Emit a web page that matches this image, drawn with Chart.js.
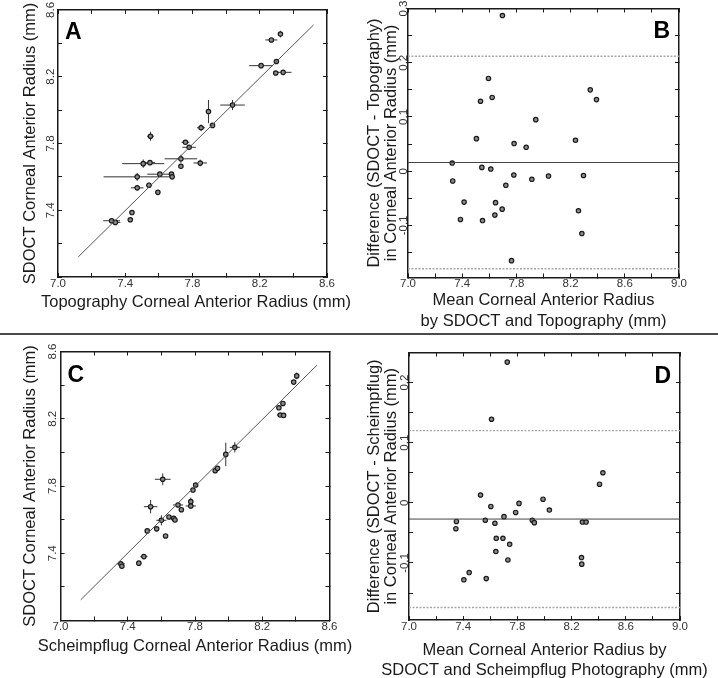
<!DOCTYPE html>
<html>
<head>
<meta charset="utf-8">
<script src="https://cdn.jsdelivr.net/npm/chart.js"></script>
<style>
	body { margin: 0; background: #fff; overflow: hidden; }
	.page { position: relative; width: 718px; height: 678px; overflow: hidden; }
	.page canvas { position: absolute; }
	.divider { position: absolute; left: 0; top: 333px; width: 718px; height: 2px; background: #4a4a4a; }
</style>
</head>
<body>
<div class="page">
	<div class="divider"></div>
	<canvas id="chartA" width="392" height="334" style="left:0px;top:0px"></canvas>
	<canvas id="chartB" width="367" height="334" style="left:360px;top:0px"></canvas>
	<canvas id="chartC" width="390" height="342" style="left:0px;top:336px"></canvas>
	<canvas id="chartD" width="367" height="344" style="left:361px;top:336px"></canvas>
</div>
<script>
// ---- data ----
// A: topography vs SDOCT (mm), with half error bars
const topoA = [8.323, 8.269, 8.299, 8.208, 8.295, 8.339, 8.038, 7.895, 7.919, 7.851, 7.550, 7.758, 7.780, 7.731, 7.731,
	7.846, 7.507, 7.547, 7.471, 7.606, 7.675, 7.679, 7.471, 7.541, 7.594, 7.440, 7.430, 7.319, 7.341];
const sdoctA = [8.455, 8.420, 8.291, 8.266, 8.222, 8.226, 8.030, 7.991, 7.908, 7.894, 7.843, 7.807, 7.777, 7.708, 7.663,
	7.683, 7.679, 7.685, 7.600, 7.616, 7.617, 7.600, 7.534, 7.550, 7.507, 7.386, 7.343, 7.337, 7.327];
const topoErrA = [0.01, 0.036, 0.01, 0.071, 0.01, 0.05, 0.073, 0.015, 0.015, 0.024, 0.02, 0.023, 0.04, 0.097, 0.01,
	0.04, 0.125, 0.03, 0.2, 0.075, 0.01, 0.005, 0.037, 0.016, 0.005, 0.005, 0.005, 0.05, 0.03];
const sdoctErrA = [0.02, 0.005, 0.01, 0.005, 0.005, 0.01, 0.03, 0.07, 0.01, 0.02, 0.027, 0.005, 0.005, 0.024, 0.015,
	0.02, 0.025, 0.005, 0.024, 0.005, 0.01, 0.005, 0.015, 0.016, 0.005, 0.01, 0.005, 0.015, 0.005];
const fitAX = [7.12, 8.52];
const fitAY = [7.12, 8.51];

// B: Bland-Altman, SDOCT vs topography
const meanB = [7.697, 7.594, 7.621, 7.535, 8.345, 8.391, 7.943, 7.505, 7.783, 7.872, 8.236, 7.326, 7.545, 7.611, 7.330,
	7.781, 7.914, 8.037, 8.295, 7.722, 7.414, 7.646, 7.695, 7.641, 7.387, 7.550, 8.258, 8.283, 7.764];
const diffB = [0.287, 0.171, 0.136, 0.129, 0.150, 0.132, 0.095, 0.060, 0.051, 0.044, 0.057, 0.015, 0.007, 0.004, -0.018,
	-0.007, -0.015, -0.009, -0.008, -0.026, -0.057, -0.058, -0.070, -0.081, -0.089, -0.091, -0.073, -0.115, -0.165];
const limitsB = [-0.180, 0.016, 0.212]; // lower, mean, upper

// C: Scheimpflug vs SDOCT (mm), with half error bars
const scheimC = [8.405, 8.387, 8.323, 8.299, 8.307, 8.327, 8.037, 7.983, 7.920, 7.934, 7.608, 7.804, 7.788, 7.536, 7.699,
	7.719, 7.775, 7.775, 7.600, 7.645, 7.673, 7.681, 7.516, 7.572, 7.625, 7.496, 7.466, 7.359, 7.365];
const sdoctC = [8.455, 8.418, 8.291, 8.265, 8.222, 8.220, 8.030, 7.988, 7.891, 7.905, 7.840, 7.806, 7.776, 7.677, 7.687,
	7.659, 7.707, 7.681, 7.596, 7.616, 7.608, 7.598, 7.533, 7.545, 7.503, 7.380, 7.341, 7.337, 7.323];
const scheimErrC = [0.005, 0.005, 0.005, 0.01, 0.02, 0.01, 0.03, 0.005, 0.01, 0.005, 0.047, 0.01, 0.01, 0.04, 0.03,
	0.015, 0.01, 0.031, 0.03, 0.01, 0.02, 0.01, 0.015, 0.005, 0.01, 0.022, 0.015, 0.024, 0.01];
const sdoctErrC = [0.02, 0.005, 0.005, 0.005, 0.005, 0.005, 0.031, 0.07, 0.01, 0.005, 0.035, 0.01, 0.01, 0.04, 0.01,
	0.01, 0.024, 0.015, 0.03, 0.005, 0.005, 0.01, 0.015, 0.015, 0.005, 0.01, 0.005, 0.01, 0.015];
const fitCX = [7.12, 8.526];
const fitCY = [7.123, 8.519];

// D: Bland-Altman, SDOCT vs Scheimpflug
const meanD = [7.725, 7.609, 8.431, 8.406, 7.528, 7.604, 7.812, 7.989, 7.787, 8.036, 7.701, 7.350, 7.346, 7.563, 7.634,
	7.910, 7.925, 8.280, 8.307, 7.644, 7.693, 7.743, 7.641, 7.730, 8.273, 8.275, 7.444, 7.405, 7.570];
const diffD = [0.234, 0.139, 0.050, 0.031, 0.013, -0.006, -0.001, 0.006, -0.016, -0.012, -0.023, -0.031, -0.043, -0.029, -0.034,
	-0.029, -0.033, -0.032, -0.032, -0.059, -0.059, -0.069, -0.081, -0.095, -0.091, -0.102, -0.116, -0.128, -0.126];
const limitsD = [-0.174, -0.027, 0.120];

// ---- ticks ----
const radiusTicks = [7.0, 7.2, 7.4, 7.6, 7.8, 8.0, 8.2, 8.4, 8.6];
const radiusXLabels = ['7.0', '', '7.4', '', '7.8', '', '8.2', '', '8.6'];
const radiusYLabels = ['', '', '7.4', '', '7.8', '', '8.2', '', '8.6'];
const meanTicks = [7.0, 7.2, 7.4, 7.6, 7.8, 8.0, 8.2, 8.4, 8.6, 8.8, 9.0];
const meanLabels = ['7.0', '', '7.4', '', '7.8', '', '8.2', '', '8.6', '', '9.0'];
const diffTicksB = [-0.15, -0.1, -0.05, 0, 0.05, 0.1, 0.15, 0.2, 0.25, 0.3];
const diffLabelsB = ['', '-0.1', '', '0', '', '0.1', '', '0.2', '', '0.3'];
const diffTicksD = [-0.15, -0.1, -0.05, 0, 0.05, 0.1, 0.15, 0.2, 0.25];
const diffLabelsD = ['', '-0.1', '', '0', '', '0.1', '', '0.2', ''];

const FONT = "'Liberation Sans', Arial, sans-serif";
const INK = '#1a1a1a';
const TITLE_SIZE = 16.5;
const TICK_SIZE = 11.5;

// error bars, drawn through the chart scales
const errorBars = {
	id: 'errorBars',
	beforeDatasetsDraw(chart) {
		const { ctx, scales } = chart;
		chart.data.datasets.forEach((ds) => {
			if (!ds.xErr) return;
			ctx.save();
			ctx.strokeStyle = '#333';
			ctx.lineWidth = 1;
			ds.data.forEach((p, i) => {
				const px = scales.x.getPixelForValue(p.x);
				const py = scales.y.getPixelForValue(p.y);
				ctx.beginPath();
				ctx.moveTo(scales.x.getPixelForValue(p.x - ds.xErr[i]), py);
				ctx.lineTo(scales.x.getPixelForValue(p.x + ds.xErr[i]), py);
				ctx.moveTo(px, scales.y.getPixelForValue(p.y - ds.yErr[i]));
				ctx.lineTo(px, scales.y.getPixelForValue(p.y + ds.yErr[i]));
				ctx.stroke();
			});
			ctx.restore();
		});
	},
};

// big bold panel letter
const panelLetter = {
	id: 'panelLetter',
	afterDraw(chart, args, opts) {
		const { ctx, chartArea } = chart;
		ctx.save();
		ctx.font = 'bold 23px ' + FONT;
		ctx.fillStyle = '#000';
		ctx.textBaseline = 'alphabetic';
		ctx.textAlign = opts.side;
		const x = opts.side === 'left' ? chartArea.left + 7 : chartArea.right - 9;
		ctx.fillText(opts.text, x, chartArea.top + opts.dy);
		ctx.restore();
	},
};

function edgeAxis(position, range, tickVals, size) {
	const horizontal = position === 'top' || position === 'bottom';
	return {
		type: 'linear',
		axis: horizontal ? 'x' : 'y',
		position: position,
		min: range[0],
		max: range[1],
		afterBuildTicks: (scale) => {
			scale.ticks = tickVals.map((v) => ({ value: v }));
		},
		afterFit: (scale) => {
			if (horizontal) scale.height = size;
			else scale.width = size;
		},
		border: { display: true, color: INK, width: 1.5 },
		grid: { display: true, drawOnChartArea: false, drawTicks: true, tickLength: -4, tickColor: INK, tickWidth: 1 },
		ticks: { display: false, autoSkip: false },
	};
}

function withLabels(axis, labels, pad, rotated) {
	axis.ticks = {
		display: true,
		autoSkip: false,
		padding: pad,
		color: '#333',
		font: { family: FONT, size: TICK_SIZE },
		minRotation: rotated ? 90 : 0,
		maxRotation: rotated ? 90 : 0,
		crossAlign: rotated ? 'center' : 'near',
		callback: (v, i) => labels[i],
	};
	return axis;
}

function withTitle(axis, text, lineHeight, padTop) {
	axis.title = {
		display: true,
		text: text,
		color: INK,
		font: { family: FONT, size: TITLE_SIZE, lineHeight: lineHeight },
		padding: { top: padTop, bottom: 0 },
	};
	return axis;
}

function pointSet(xs, ys, xErr, yErr) {
	return {
		data: xs.map((x, i) => ({ x: x, y: ys[i] })),
		xErr: xErr,
		yErr: yErr,
		showLine: false,
		pointRadius: 2.2,
		pointBorderWidth: 1.2,
		pointBorderColor: INK,
		pointBackgroundColor: '#8c8c8c',
	};
}

function lineSet(xs, ys, color, width, dash) {
	return {
		data: xs.map((x, i) => ({ x: x, y: ys[i] })),
		showLine: true,
		pointRadius: 0,
		borderColor: color,
		borderWidth: width,
		borderDash: dash || [],
	};
}

function limitSets(limits) {
	return [
		lineSet([7.0, 9.0], [limits[0], limits[0]], '#a6a6a6', 1.4, [2, 1.5]),
		lineSet([7.0, 9.0], [limits[2], limits[2]], '#a6a6a6', 1.4, [2, 1.5]),
		lineSet([7.0, 9.0], [limits[1], limits[1]], '#444', 1),
	];
}

function buildPanel(id, p) {
	return new Chart(document.getElementById(id), {
		type: 'scatter',
		data: { datasets: p.datasets },
		options: {
			responsive: false,
			animation: false,
			events: [],
			layout: { padding: 0 },
			plugins: {
				legend: { display: false },
				tooltip: { enabled: false },
				title: {
					display: true,
					position: 'bottom',
					text: p.xTitle,
					color: INK,
					font: { family: FONT, size: TITLE_SIZE, weight: 'normal', lineHeight: p.xTitleLH },
					padding: p.xTitlePad,
				},
				panelLetter: p.letter,
			},
			scales: p.scales,
		},
		plugins: [errorBars, panelLetter],
	});
}

// A
buildPanel('chartA', {
	datasets: [lineSet(fitAX, fitAY, '#555', 1), pointSet(topoA, sdoctA, topoErrA, sdoctErrA)],
	xTitle: 'Topography Corneal Anterior Radius (mm)',
	xTitleLH: 1.2,
	xTitlePad: { top: 3.1, bottom: 22.1 },
	letter: { text: 'A', side: 'left', dy: 29 },
	scales: {
		x: withLabels(edgeAxis('bottom', [7.0, 8.6], radiusTicks, 12), radiusXLabels, 3.6, false),
		x2: edgeAxis('top', [7.0, 8.6], radiusTicks, 8),
		y: withTitle(withLabels(edgeAxis('left', [7.0, 8.6], radiusTicks, 58), radiusYLabels, 3, true),
			'SDOCT Corneal Anterior Radius (mm)', 1.2, 20.1),
		y2: edgeAxis('right', [7.0, 8.6], radiusTicks, 65),
	},
});

// B
buildPanel('chartB', {
	datasets: limitSets(limitsB).concat([pointSet(meanB, diffB)]),
	xTitle: ['Mean Corneal Anterior Radius', 'by SDOCT and Topography (mm)'],
	xTitleLH: 1.31,
	xTitlePad: { top: 0, bottom: 1.3 },
	letter: { text: 'B', side: 'right', dy: 29 },
	scales: {
		x: withLabels(edgeAxis('bottom', [7.0, 9.0], meanTicks, 12), meanLabels, 3.6, false),
		x2: edgeAxis('top', [7.0, 9.0], meanTicks, 8.5),
		y: withTitle(withLabels(edgeAxis('left', [-0.196, 0.3], diffTicksB, 48), diffLabelsB, -2, true),
			['Difference (SDOCT - Topography)', 'in Corneal Anterior Radius (mm)'], 1.03, 6),
		y2: edgeAxis('right', [-0.196, 0.3], diffTicksB, 48),
	},
});

// C
buildPanel('chartC', {
	datasets: [lineSet(fitCX, fitCY, '#555', 1), pointSet(scheimC, sdoctC, scheimErrC, sdoctErrC)],
	xTitle: 'Scheimpflug Corneal Anterior Radius (mm)',
	xTitleLH: 1.2,
	xTitlePad: { top: 4.3, bottom: 21.4 },
	letter: { text: 'C', side: 'left', dy: 30 },
	scales: {
		x: withLabels(edgeAxis('bottom', [7.0, 8.6], radiusTicks, 12), radiusXLabels, 3.6, false),
		x2: edgeAxis('top', [7.0, 8.6], radiusTicks, 15.5),
		y: withTitle(withLabels(edgeAxis('left', [7.0, 8.6], radiusTicks, 60.5), radiusYLabels, 3.5, true),
			'SDOCT Corneal Anterior Radius (mm)', 1.2, 20.1),
		y2: edgeAxis('right', [7.0, 8.6], radiusTicks, 60.5),
	},
});

// D
buildPanel('chartD', {
	datasets: limitSets(limitsD).concat([pointSet(meanD, diffD)]),
	xTitle: ['Mean Corneal Anterior Radius by', 'SDOCT and Scheimpflug Photography (mm)'],
	xTitleLH: 1.21,
	xTitlePad: { top: 8, bottom: 0 },
	letter: { text: 'D', side: 'right', dy: 30 },
	scales: {
		x: withLabels(edgeAxis('bottom', [7.0, 9.0], meanTicks, 12), meanLabels, 3.6, false),
		x2: edgeAxis('top', [7.0, 9.0], meanTicks, 16.5),
		y: withTitle(withLabels(edgeAxis('left', [-0.195, 0.25], diffTicksD, 48), diffLabelsD, -2, true),
			['Difference (SDOCT - Scheimpflug)', 'in Corneal Anterior Radius (mm)'], 1.03, 5),
		y2: edgeAxis('right', [-0.195, 0.25], diffTicksD, 48),
	},
});
</script>
</body>
</html>
